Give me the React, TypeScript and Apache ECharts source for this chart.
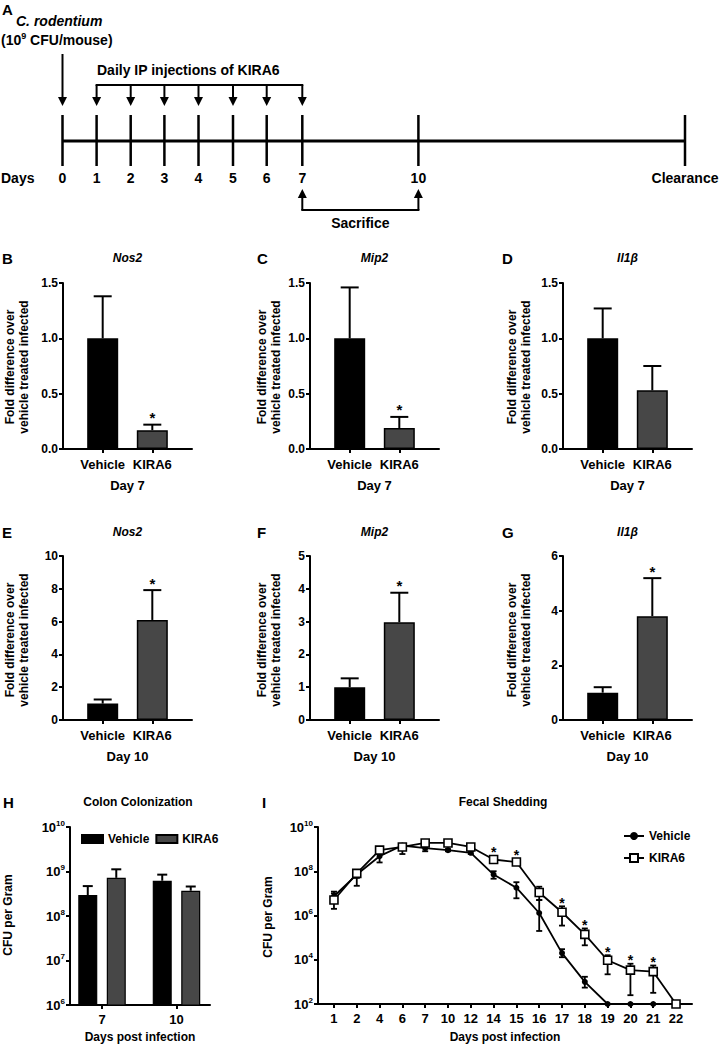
import React, { useEffect, useRef } from "react";
import * as echarts from "echarts";

const FONT = "'Liberation Sans', Arial, Helvetica, sans-serif";

// ---------------- Panel A: infection / treatment timeline ----------------
const timelineDays = ["0", "1", "2", "3", "4", "5", "6", "7", "10", "Clearance"];
const injectionDays = ["1", "2", "3", "4", "5", "6", "7"];
const sacrificeDays = ["7", "10"];

// ---------------- Panels B–G: fold difference bars ----------------
const groups = ["Vehicle", "KIRA6"];
const geneTitles = ["Nos2", "Mip2", "Il1β"];

const nos2Day7 = [1.0, 0.17];
const nos2Day7Sem = [0.38, 0.05];
const nos2Day7Sig = [0, 1];
const mip2Day7 = [1.0, 0.19];
const mip2Day7Sem = [0.46, 0.1];
const mip2Day7Sig = [0, 1];
const il1bDay7 = [1.0, 0.53];
const il1bDay7Sem = [0.27, 0.22];
const il1bDay7Sig = [0, 0];

const nos2Day10 = [1.0, 6.1];
const nos2Day10Sem = [0.25, 1.82];
const nos2Day10Sig = [0, 1];
const mip2Day10 = [1.0, 2.98];
const mip2Day10Sem = [0.27, 0.9];
const mip2Day10Sig = [0, 1];
const il1bDay10 = [1.0, 3.8];
const il1bDay10Sem = [0.2, 1.39];
const il1bDay10Sig = [0, 1];

const day7Ticks = { max: 1.5, interval: 0.5 };
const day10Ticks = [
  { max: 10, interval: 2 },
  { max: 5, interval: 1 },
  { max: 6, interval: 2 },
];

// ---------------- Panel H: colon colonization ----------------
const colonDays = ["7", "10"];
const colonVehicle = [2.95e8, 6.2e8];
const colonVehicleHi = [4.7e8, 8.5e8];
const colonKira6 = [7.2e8, 3.7e8];
const colonKira6Hi = [1.12e9, 4.6e8];

// ---------------- Panel I: fecal shedding ----------------
const fecalDays = ["1", "2", "4", "6", "7", "10", "12", "14", "15", "16", "17", "18", "19", "20", "21", "22"];
const fecalVehicle = [7.4e6, 7.1e7, 4.8e8, 1.45e9, 1.1e9, 9e8, 6.8e8, 7.1e7, 1.8e7, 1.3e6, 2e4, 1e3, 100, 100, 100, 100];
const fecalVehicleLo = [4e6, 2.2e7, 2.5e8, 1.2e9, 8e8, 8e8, 6e8, 4.6e7, 6e6, 2e5, 1.3e4, 5.5e2, 100, 100, 100, 100];
const fecalVehicleHi = [1.2e7, 1e8, 7e8, 1.6e9, 1.4e9, 1e9, 8e8, 1e8, 3.2e7, 5e6, 3e4, 1.7e3, 100, 100, 100, 100];
const fecalKira6 = [5e6, 8e7, 9e8, 1.25e9, 1.9e9, 1.9e9, 1.25e9, 3.4e8, 2.6e8, 1.1e7, 1.4e6, 1.4e5, 9.5e3, 3.4e3, 2.9e3, 100];
const fecalKira6Lo = [2e6, 5e7, 7e8, 6e8, 1.6e9, 1.6e9, 1.1e9, 3e8, 2.4e8, 5e6, 3.5e5, 4.5e4, 2.2e3, 2.5e2, 3.2e2, 100];
const fecalKira6Hi = [1e7, 1.1e8, 1.1e9, 1.6e9, 2.2e9, 2.2e9, 1.4e9, 4e8, 3e8, 2e7, 2.6e6, 2.6e5, 1.6e4, 6.6e3, 5.5e3, 100];
const fecalSig = [0, 0, 0, 0, 0, 0, 0, 1, 1, 0, 1, 1, 1, 1, 1, 0];

// ---------------- layout (positions only) ----------------
const colLeft = [63, 310, 563];
const colW = 129;
const colLetterX = [2, 257, 502];
const colYLabelX = [17, 269, 519];
const rowTop = [283, 556];
const rowH = [166, 164];
const rowTitleY = [258, 532];
const rowYLabelY = [367, 640];
const rowDay = ["Day 7", "Day 10"];
const timelineX = [62.5, 96.6, 130.7, 164.4, 198.5, 233, 266.7, 302.3, 418.4, 685];

const KIRA_COLOR = "#474747";
const barColors = ["#000000", KIRA_COLOR];

function txt(x: number, y: number, text: string, opts: any = {}) {
  const align = opts.align || "center";
  const va = opts.va || "middle";
  return {
    type: "text",
    x,
    y,
    rotation: opts.rotation || 0,
    z: 100,
    style: {
      text,
      fill: "#000",
      font: opts.font || `bold 13px ${FONT}`,
      align,
      verticalAlign: va,
      textAlign: align,
      textVerticalAlign: va,
      lineHeight: opts.lineHeight,
      rich: opts.rich,
    },
  };
}
function ln(x1: number, y1: number, x2: number, y2: number, w = 2.5) {
  return { type: "line", z: 100, shape: { x1, y1, x2, y2 }, style: { stroke: "#000", lineWidth: w } };
}
function headDown(x: number, tipY: number) {
  return { type: "polygon", z: 100, shape: { points: [[x - 4.5, tipY - 9], [x + 4.5, tipY - 9], [x, tipY]] }, style: { fill: "#000" } };
}
function headUp(x: number, tipY: number) {
  return { type: "polygon", z: 100, shape: { points: [[x - 4.5, tipY + 9], [x + 4.5, tipY + 9], [x, tipY]] }, style: { fill: "#000" } };
}

const axisLineStyle = { show: true, onZero: false, lineStyle: { color: "#000", width: 2 } };
const axisTickStyle = { show: true, length: 4, inside: false, lineStyle: { color: "#000", width: 2 } };

function logLabel(size: number) {
  return {
    color: "#000",
    formatter: (v: number) => `{b|10}{e|${Math.round(Math.log10(v))}}`,
    rich: {
      b: { fontSize: size, fontWeight: "bold", fontFamily: FONT, color: "#000", lineHeight: 16 },
      e: { fontSize: 8, fontWeight: "bold", fontFamily: FONT, color: "#000", lineHeight: 9, verticalAlign: "top" },
    },
  };
}

function upperErr(capW: number, offset: number, starSize: number) {
  return (params: any, api: any) => {
    const x = api.value(0);
    const top = api.value(1);
    const hi = api.value(2);
    const sig = api.value(3);
    const p0 = api.coord([x, top]);
    const p1 = api.coord([x, hi]);
    const cx = p0[0] + offset;
    const children: any[] = [
      { type: "line", shape: { x1: cx, y1: p0[1], x2: cx, y2: p1[1] }, style: { stroke: "#000", lineWidth: 2 } },
      { type: "line", shape: { x1: cx - capW / 2, y1: p1[1], x2: cx + capW / 2, y2: p1[1] }, style: { stroke: "#000", lineWidth: 2 } },
    ];
    if (sig) {
      children.push({
        type: "text",
        x: cx,
        y: p1[1] - 7,
        style: { text: "*", fill: "#000", font: `bold ${starSize}px ${FONT}`, align: "center", verticalAlign: "middle", textAlign: "center", textVerticalAlign: "middle" },
      });
    }
    return { type: "group", children };
  };
}

function rangeErr(capW: number) {
  return (params: any, api: any) => {
    const x = api.value(0);
    const m = api.value(1);
    const lo = api.value(2);
    const hi = api.value(3);
    const sig = api.value(4);
    const pm = api.coord([x, m]);
    const pl = api.coord([x, lo]);
    const ph = api.coord([x, hi]);
    const children: any[] = [];
    if (Math.abs(pl[1] - ph[1]) > 0.5) {
      children.push(
        { type: "line", shape: { x1: pm[0], y1: pl[1], x2: pm[0], y2: ph[1] }, style: { stroke: "#000", lineWidth: 1.8 } },
        { type: "line", shape: { x1: pm[0] - capW / 2, y1: ph[1], x2: pm[0] + capW / 2, y2: ph[1] }, style: { stroke: "#000", lineWidth: 1.8 } },
        { type: "line", shape: { x1: pm[0] - capW / 2, y1: pl[1], x2: pm[0] + capW / 2, y2: pl[1] }, style: { stroke: "#000", lineWidth: 1.8 } }
      );
    }
    if (sig) {
      const y = Math.min(ph[1] - 3.5, pm[1] - 7.5);
      children.push({
        type: "text",
        x: pm[0],
        y,
        style: { text: "*", fill: "#000", font: `bold 14px ${FONT}`, align: "center", verticalAlign: "middle", textAlign: "center", textVerticalAlign: "middle" },
      });
    }
    return { type: "group", children };
  };
}

function buildOption() {
  const grid: any[] = [];
  const xAxis: any[] = [];
  const yAxis: any[] = [];
  const series: any[] = [];
  const graphic: any[] = [];

  // ---------- Panel A ----------
  graphic.push(txt(2, 9, "A", { align: "left", font: `bold 15px ${FONT}` }));
  graphic.push(txt(16, 21, "C. rodentium", { align: "left", font: `italic bold 14px ${FONT}` }));
  graphic.push(
    txt(1, 40, "{t|(10}{s|9}{t| CFU/mouse)}", {
      align: "left",
      rich: {
        t: { fontSize: 14, fontWeight: "bold", fontFamily: FONT, lineHeight: 18 },
        s: { fontSize: 9, fontWeight: "bold", fontFamily: FONT, lineHeight: 10, verticalAlign: "top" },
      },
    })
  );
  const tx = (d: string) => timelineX[timelineDays.indexOf(d)];
  // day-0 infection arrow
  graphic.push(ln(tx("0"), 54, tx("0"), 99, 2));
  graphic.push(headDown(tx("0"), 106));
  // injection bracket
  graphic.push(txt(97, 70, "Daily IP injections of KIRA6", { align: "left", font: `bold 14px ${FONT}` }));
  graphic.push(ln(tx(injectionDays[0]) - 1, 85, tx(injectionDays[injectionDays.length - 1]) + 1, 85, 2));
  injectionDays.forEach((d) => {
    graphic.push(ln(tx(d), 85, tx(d), 99, 2));
    graphic.push(headDown(tx(d), 106));
  });
  // timeline
  graphic.push(ln(tx("0"), 141, tx("Clearance"), 141, 3));
  timelineDays.forEach((d) => {
    graphic.push(ln(tx(d), 115, tx(d), 166, 2.5));
    graphic.push(txt(tx(d), 178, d, { font: `bold 14px ${FONT}` }));
  });
  graphic.push(txt(1, 178, "Days", { align: "left", font: `bold 14px ${FONT}` }));
  // sacrifice bracket
  sacrificeDays.forEach((d) => {
    graphic.push(headUp(tx(d), 189));
    graphic.push(ln(tx(d), 196, tx(d), 210, 2));
  });
  graphic.push(ln(tx(sacrificeDays[0]) - 1, 210, tx(sacrificeDays[1]) + 1, 210, 2));
  graphic.push(txt((tx(sacrificeDays[0]) + tx(sacrificeDays[1])) / 2, 223, "Sacrifice", { font: `bold 14px ${FONT}` }));

  // ---------- Panels B–G ----------
  const rows = [
    [
      { mean: nos2Day7, sem: nos2Day7Sem, sig: nos2Day7Sig, ...day7Ticks },
      { mean: mip2Day7, sem: mip2Day7Sem, sig: mip2Day7Sig, ...day7Ticks },
      { mean: il1bDay7, sem: il1bDay7Sem, sig: il1bDay7Sig, ...day7Ticks },
    ],
    [
      { mean: nos2Day10, sem: nos2Day10Sem, sig: nos2Day10Sig, ...day10Ticks[0] },
      { mean: mip2Day10, sem: mip2Day10Sem, sig: mip2Day10Sig, ...day10Ticks[1] },
      { mean: il1bDay10, sem: il1bDay10Sem, sig: il1bDay10Sig, ...day10Ticks[2] },
    ],
  ];
  const letters = ["B", "C", "D", "E", "F", "G"];
  rows.forEach((row, r) => {
    row.forEach((p: any, c) => {
      const gi = grid.length;
      grid.push({ left: colLeft[c], top: rowTop[r], width: colW, height: rowH[r] });
      xAxis.push({
        gridIndex: gi,
        type: "value",
        min: -0.8,
        max: 1.8,
        axisLine: axisLineStyle,
        axisTick: { ...axisTickStyle, customValues: [0, 1] },
        splitLine: { show: false },
        axisLabel: {
          customValues: [0, 1],
          formatter: (v: number) => groups[Math.round(v)],
          color: "#000",
          fontFamily: FONT,
          fontWeight: "bold",
          fontSize: 13,
          margin: 9,
        },
        name: rowDay[r],
        nameLocation: "middle",
        nameGap: 30,
        nameTextStyle: { color: "#000", fontFamily: FONT, fontWeight: "bold", fontSize: 13 },
      });
      yAxis.push({
        gridIndex: gi,
        type: "value",
        min: 0,
        max: p.max,
        interval: p.interval,
        axisLine: axisLineStyle,
        axisTick: axisTickStyle,
        splitLine: { show: false },
        axisLabel: {
          formatter: (v: number) => (r === 0 ? v.toFixed(1) : String(v)),
          color: "#000",
          fontFamily: FONT,
          fontWeight: "bold",
          fontSize: 12,
          margin: 5,
        },
      });
      series.push({
        type: "bar",
        name: `bars-${gi}`,
        xAxisIndex: gi,
        yAxisIndex: gi,
        barWidth: 31,
        itemStyle: { borderColor: "#000", borderWidth: 1.5 },
        data: p.mean.map((m: number, i: number) => ({ value: [i, m], itemStyle: { color: barColors[i] } })),
        z: 2,
      });
      series.push({
        type: "custom",
        name: `err-${gi}`,
        xAxisIndex: gi,
        yAxisIndex: gi,
        renderItem: upperErr(18, 0, 15),
        data: p.mean.map((m: number, i: number) => [i, m, m + p.sem[i], p.sig[i]]),
        z: 3,
      });
      const cx = colLeft[c] + colW / 2;
      graphic.push(txt(colLetterX[c], rowTitleY[r], letters[r * 3 + c], { align: "left", font: `bold 15px ${FONT}` }));
      graphic.push(txt(cx, rowTitleY[r], geneTitles[c], { font: `italic bold 12px ${FONT}` }));
      graphic.push(
        txt(colYLabelX[c], rowYLabelY[r], "Fold difference over\nvehicle treated infected", {
          rotation: Math.PI / 2,
          font: `bold 12px ${FONT}`,
          lineHeight: 14,
        })
      );
    });
  });

  // ---------- Panel H ----------
  const hG = grid.length;
  grid.push({ left: 70, top: 827, width: 140, height: 178 });
  xAxis.push({
    gridIndex: hG,
    type: "value",
    min: -0.43,
    max: 1.45,
    axisLine: axisLineStyle,
    axisTick: { ...axisTickStyle, customValues: [0, 1] },
    splitLine: { show: false },
    axisLabel: {
      customValues: [0, 1],
      formatter: (v: number) => colonDays[Math.round(v)],
      color: "#000",
      fontFamily: FONT,
      fontWeight: "bold",
      fontSize: 13,
      margin: 8,
    },
    name: "Days post infection",
    nameLocation: "middle",
    nameGap: 26,
    nameTextStyle: { color: "#000", fontFamily: FONT, fontWeight: "bold", fontSize: 12 },
  });
  yAxis.push({
    gridIndex: hG,
    type: "log",
    logBase: 10,
    min: 1e6,
    max: 1e10,
    interval: 1,
    axisLine: axisLineStyle,
    axisTick: axisTickStyle,
    minorTick: { show: false },
    splitLine: { show: false },
    axisLabel: { ...logLabel(13), margin: 5 },
  });
  series.push({
    type: "bar",
    name: "Vehicle",
    xAxisIndex: hG,
    yAxisIndex: hG,
    barWidth: 19,
    barGap: "50%",
    clip: true,
    itemStyle: { color: "#000", borderColor: "#000", borderWidth: 1.2 },
    data: colonVehicle.map((v, i) => [i, v]),
    z: 2,
  });
  series.push({
    type: "bar",
    name: "KIRA6",
    xAxisIndex: hG,
    yAxisIndex: hG,
    barWidth: 19,
    barGap: "50%",
    clip: true,
    itemStyle: { color: KIRA_COLOR, borderColor: "#000", borderWidth: 1.2 },
    data: colonKira6.map((v, i) => [i, v]),
    z: 2,
  });
  series.push({
    type: "custom",
    name: "err-h-veh",
    xAxisIndex: hG,
    yAxisIndex: hG,
    renderItem: upperErr(10, -14.25, 14),
    data: colonVehicle.map((v, i) => [i, v, colonVehicleHi[i], 0]),
    z: 3,
  });
  series.push({
    type: "custom",
    name: "err-h-kira",
    xAxisIndex: hG,
    yAxisIndex: hG,
    renderItem: upperErr(10, 14.25, 14),
    data: colonKira6.map((v, i) => [i, v, colonKira6Hi[i], 0]),
    z: 3,
  });
  graphic.push(txt(3, 802, "H", { align: "left", font: `bold 15px ${FONT}` }));
  graphic.push(txt(138, 802, "Colon Colonization", { font: `bold 12px ${FONT}` }));
  graphic.push(txt(8, 915, "CFU per Gram", { rotation: Math.PI / 2, font: `bold 12px ${FONT}` }));

  // ---------- Panel I ----------
  const iG = grid.length;
  grid.push({ left: 318, top: 827, width: 374, height: 177 });
  xAxis.push({
    gridIndex: iG,
    type: "value",
    min: -0.7,
    max: 15.7,
    axisLine: axisLineStyle,
    axisTick: { ...axisTickStyle, customValues: fecalDays.map((_, i) => i) },
    splitLine: { show: false },
    axisLabel: {
      customValues: fecalDays.map((_, i) => i),
      formatter: (v: number) => fecalDays[Math.round(v)],
      color: "#000",
      fontFamily: FONT,
      fontWeight: "bold",
      fontSize: 13,
      margin: 8,
    },
    name: "Days post infection",
    nameLocation: "middle",
    nameGap: 27,
    nameTextStyle: { color: "#000", fontFamily: FONT, fontWeight: "bold", fontSize: 12 },
  });
  yAxis.push({
    gridIndex: iG,
    type: "log",
    logBase: 10,
    min: 1e2,
    max: 1e10,
    interval: 2,
    axisLine: axisLineStyle,
    axisTick: axisTickStyle,
    minorTick: { show: false },
    splitLine: { show: false },
    axisLabel: { ...logLabel(13), margin: 5 },
  });
  series.push({
    type: "custom",
    name: "err-i-veh",
    xAxisIndex: iG,
    yAxisIndex: iG,
    renderItem: rangeErr(6),
    data: fecalVehicle.map((v, i) => [i, v, fecalVehicleLo[i], fecalVehicleHi[i], 0]),
    z: 3,
  });
  series.push({
    type: "custom",
    name: "err-i-kira",
    xAxisIndex: iG,
    yAxisIndex: iG,
    renderItem: rangeErr(6),
    data: fecalKira6.map((v, i) => [i, v, fecalKira6Lo[i], fecalKira6Hi[i], fecalSig[i]]),
    z: 3,
  });
  series.push({
    type: "line",
    name: "Vehicle ",
    xAxisIndex: iG,
    yAxisIndex: iG,
    symbol: "circle",
    symbolSize: 6,
    itemStyle: { color: "#000" },
    lineStyle: { color: "#000", width: 1.8 },
    data: fecalVehicle.map((v, i) => [i, v]),
    z: 4,
  });
  series.push({
    type: "line",
    name: "KIRA6 ",
    xAxisIndex: iG,
    yAxisIndex: iG,
    symbol: "rect",
    symbolSize: 8,
    itemStyle: { color: "#fff", borderColor: "#000", borderWidth: 1.6 },
    lineStyle: { color: "#000", width: 1.8 },
    data: fecalKira6.map((v, i) => [i, v]),
    z: 5,
  });
  graphic.push(txt(262, 802, "I", { align: "left", font: `bold 15px ${FONT}` }));
  graphic.push(txt(503, 802, "Fecal Shedding", { font: `bold 12px ${FONT}` }));
  graphic.push(txt(268, 917, "CFU per Gram", { rotation: Math.PI / 2, font: `bold 12px ${FONT}` }));

  return {
    animation: false,
    backgroundColor: "#fff",
    textStyle: { fontFamily: FONT, color: "#000" },
    grid,
    xAxis,
    yAxis,
    series,
    graphic: { elements: graphic },
    legend: [
      {
        data: ["Vehicle", "KIRA6"],
        left: 76,
        top: 828,
        orient: "horizontal",
        icon: "rect",
        itemWidth: 21,
        itemHeight: 8,
        itemGap: 6,
        selectedMode: false,
        textStyle: { color: "#000", fontFamily: FONT, fontWeight: "bold", fontSize: 12 },
      },
      {
        data: ["Vehicle ", "KIRA6 "],
        left: 618,
        top: 825,
        orient: "vertical",
        itemWidth: 20,
        itemHeight: 10,
        itemGap: 10,
        selectedMode: false,
        formatter: (n: string) => n.trim(),
        textStyle: { color: "#000", fontFamily: FONT, fontWeight: "bold", fontSize: 12 },
      },
    ],
  };
}

export default function App() {
  const ref = useRef<HTMLDivElement>(null);
  useEffect(() => {
    document.body.style.margin = "0";
    if (!ref.current) return;
    const chart = echarts.init(ref.current, undefined, { renderer: "svg" });
    chart.setOption(buildOption() as any);
    return () => chart.dispose();
  }, []);
  return <div ref={ref} style={{ width: 721, height: 1049, background: "#fff" }} />;
}
